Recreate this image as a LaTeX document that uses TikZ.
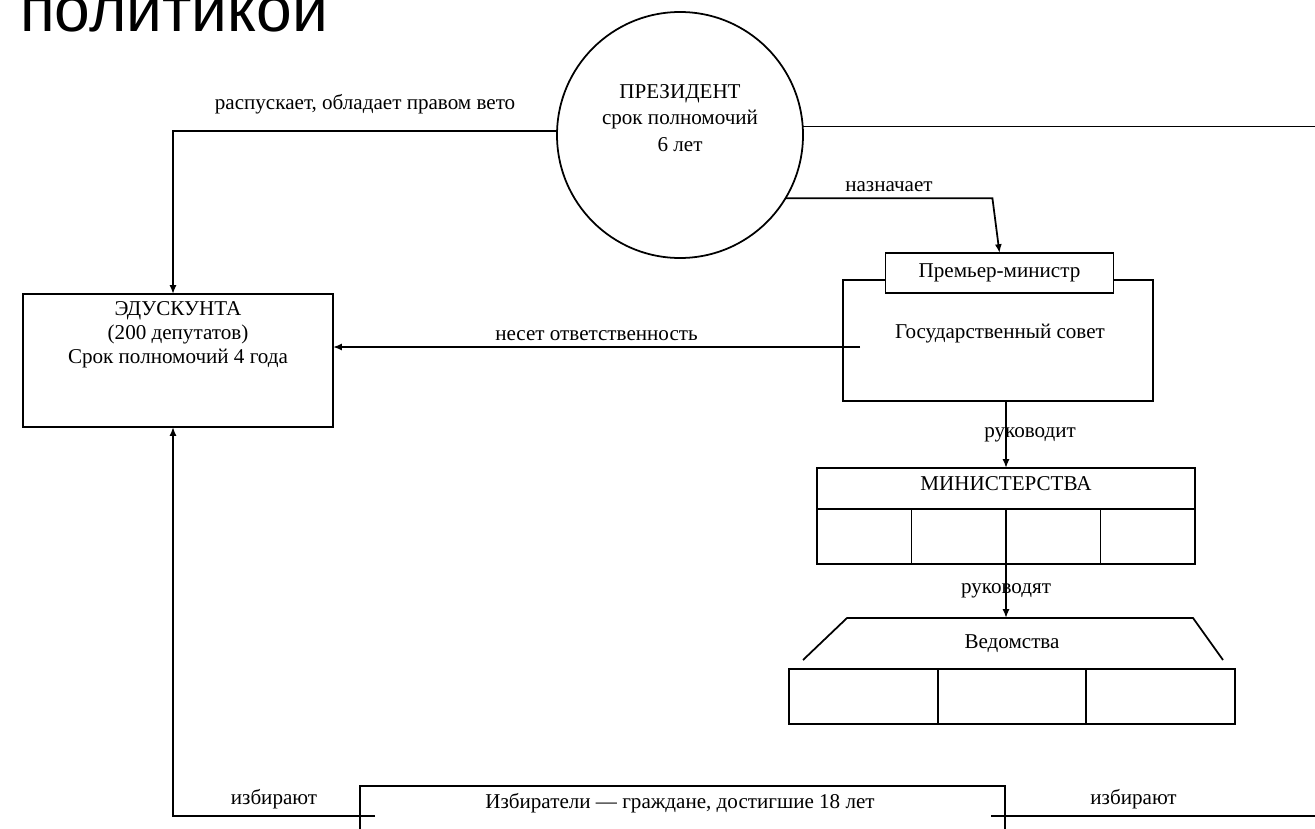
\documentclass[tikz,border=0pt]{standalone}
\usepackage{fontspec}
\setmainfont{Liberation Serif}
\newfontfamily\titlefont{Liberation Sans}
\usetikzlibrary{arrows.meta,calc,positioning}
\tikzstyle{lineArrow} = [line width=1pt, -{Latex[length=5pt,width=4pt]}]
\tikzstyle{plainLine} = [line width=1pt]
\tikzstyle{plainBox} = [draw, line width=1pt, inner sep=0pt, outer sep=0pt]
\tikzstyle{cellBox} = [plainBox, minimum height=11mm, anchor=north west]

\begin{document}
\begin{tikzpicture}[x=0.2mm,y=-0.2mm,every node/.append style={font=\fontsize{12pt}{15pt}\selectfont, align=center}]
\clip (0,0) rectangle (1315,828);
\fill[white] (0,0) rectangle (1315,828);

\node (title) at (14,31) [anchor=base west, font=\titlefont\fontsize{36.5pt}{40pt}\selectfont] {политикой};

\node (pres) at (680,135) [plainBox, circle, minimum size=49.2mm] {};
\node (presText) at (680,118) {ПРЕЗИДЕНТ\\срок полномочий\\6 лет};
\node (edus) at (178,360.5) [plainBox, minimum width=62mm, minimum height=26.6mm] {};
\node (edusText) at (178,335) [font=\fontsize{12pt}{13.8pt}\selectfont] {ЭДУСКУНТА\\(200 депутатов)\\Срок полномочий 4 года};
\node (gov) at (998,340.5) [plainBox, minimum width=62mm, minimum height=24.2mm] {};
\node (govText) at (1000,334) {Государственный совет};
\node (pm) at (999.5,273) [plainBox, fill=white, minimum width=45.6mm, minimum height=8mm] {Премьер-министр};

\node (min) at (1006,468) [plainBox, anchor=north, minimum width=75.6mm, minimum height=8.2mm, text depth=2mm] {МИНИСТЕРСТВА};
\node (min1) at (min.south west) [cellBox, minimum width=18.9mm] {};
\node (min2) at (min1.north east) [cellBox, minimum width=18.9mm] {};
\node (min3) at (min2.north east) [cellBox, minimum width=18.9mm] {};
\node (min4) at (min3.north east) [cellBox, minimum width=18.9mm] {};

\coordinate (vedTop) at (1006,618);
\draw[plainLine] (803,660) -- (847,618) -- (1193,618) -- (1223,660);
\node (vedText) at (1012,644) {Ведомства};
\node (ved1) at (789,669) [cellBox, minimum width=29.73mm] {};
\node (ved2) at (ved1.north east) [cellBox, minimum width=29.73mm] {};
\node (ved3) at (ved2.north east) [cellBox, minimum width=29.73mm] {};

\node (vot) at (360,786) [plainBox, anchor=north west, minimum width=129mm, minimum height=20mm] {};
\node (votText) at (680,803) {Избиратели — граждане, достигшие 18 лет};

\coordinate (presOut) at (1315,127);
\coordinate (resp) at ($(gov.west)+(17,6.5)$);
\coordinate (votL) at ($(vot.north west)+(15,30)$);
\coordinate (votR) at ($(vot.north east)+(-14,30)$);
\coordinate (votOut) at (1315,816);

\draw[lineArrow] (pres.178) -| ($(edus.north)+(-5,0)$) node[pos=.25, above=2mm] {распускает, обладает правом вето};
\draw[plainLine] (pres.4) -- (pres.4 -| presOut);
\draw[lineArrow] (pres.-31) -- ++(207,0) node[midway, above] {назначает} -- (pm.north);
\draw[lineArrow] (resp) -- (resp -| edus.east) node[midway, above] {несет ответственность};
\draw[lineArrow] (gov.south -| min.north) -- (min.north) node[midway, xshift=4.8mm] {руководит};
\draw[lineArrow] (min.south |- min1.south) -- (vedTop) node[midway] {руководят};
\draw[lineArrow] (votL) -| ($(edus.south)+(-5,0)$) node[pos=.25, above] {избирают};
\draw[plainLine] (votR) -- (votOut) node[pos=.44, above] {избирают};
\end{tikzpicture}
\end{document}
